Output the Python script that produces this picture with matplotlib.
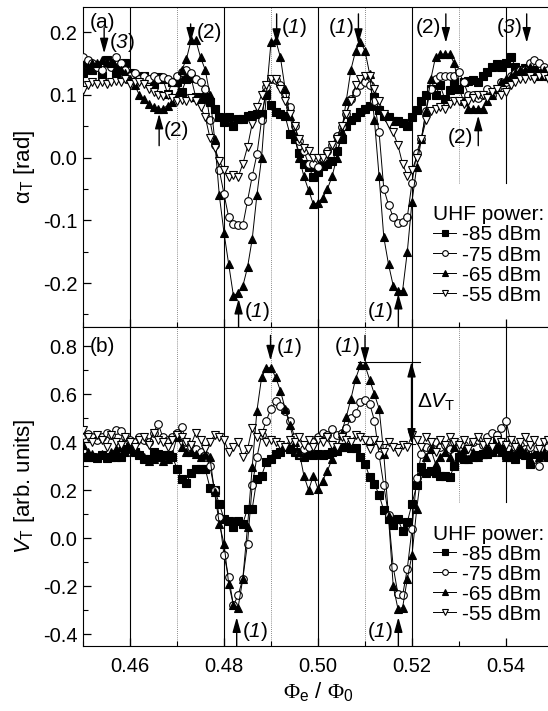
import matplotlib
matplotlib.use('Agg')
import matplotlib.pyplot as plt
import numpy as np
from matplotlib.ticker import MultipleLocator, FormatStrFormatter

plt.rcParams['font.family'] = ['Liberation Sans', 'DejaVu Sans']
plt.rcParams['mathtext.fontset'] = 'custom'
plt.rcParams['mathtext.rm'] = 'Liberation Sans'
plt.rcParams['mathtext.it'] = 'Liberation Sans:italic'
plt.rcParams['mathtext.cal'] = 'Liberation Sans:italic'
plt.rcParams['mathtext.sf'] = 'Liberation Serif'
plt.rcParams['axes.unicode_minus'] = False

# flux bias, same grid for every curve
phi = np.round(0.450 + 0.001 * np.arange(100), 3)

labels = ['-85 dBm', '-75 dBm', '-65 dBm', '-55 dBm']

# panel (a): alpha_T [rad]
alpha_85 = [0.135, 0.15, 0.14, 0.145, 0.13, 0.155, 0.15, 0.135, 0.14, 0.15,
            0.135, 0.13, 0.125, 0.13, 0.125, 0.117, 0.129, 0.125, 0.102, 0.12,
            0.12, 0.105, 0.125, 0.127, 0.096, 0.094, 0.096, 0.089, 0.078, 0.065,
            0.056, 0.064, 0.051, 0.062, 0.062, 0.067, 0.068, 0.07, 0.07, 0.102,
            0.084, 0.072, 0.07, 0.066, 0.038, 0.030, 0.008, -0.01, -0.015, -0.031,
            -0.023, -0.013, -0.01, -0.005, 0.01, 0.03, 0.05, 0.06, 0.064, 0.072,
            0.078, 0.083, 0.096, 0.076, 0.066, 0.064, 0.058, 0.058, 0.055, 0.051,
            0.064, 0.076, 0.09, 0.1, 0.11, 0.1, 0.115, 0.093, 0.107, 0.12,
            0.11, 0.12, 0.122, 0.124, 0.12, 0.13, 0.136, 0.145, 0.149, 0.145,
            0.15, 0.161, 0.145, 0.14, 0.142, 0.136, 0.14, 0.13, 0.135, 0.13]
alpha_75 = [0.16, 0.155, 0.15, 0.145, 0.14, 0.15, 0.145, 0.16, 0.15, 0.14,
            0.13, 0.135, 0.125, 0.13, 0.125, 0.13, 0.125, 0.128, 0.125, 0.12,
            0.13, 0.136, 0.14, 0.135, 0.126, 0.12, 0.11, 0.06, 0.02, -0.02,
            -0.058, -0.095, -0.106, -0.108, -0.108, -0.069, -0.03, 0.005, 0.06, 0.112,
            0.125, 0.123, 0.115, 0.101, 0.08, 0.05, 0.027, 0.01, -0.01, -0.01,
            -0.015, 0.0, 0.01, 0.02, 0.035, 0.048, 0.07, 0.093, 0.105, 0.115,
            0.12, 0.115, 0.09, 0.04, -0.05, -0.075, -0.095, -0.104, -0.103, -0.095,
            -0.04, 0.008, 0.03, 0.075, 0.11, 0.125, 0.13, 0.13, 0.13, 0.13,
            0.136, 0.12, 0.1, 0.1, 0.095, 0.1, 0.11, 0.1, 0.11, 0.12,
            0.12, 0.13, 0.135, 0.14, 0.14, 0.15, 0.155, 0.15, 0.145, 0.14]
alpha_65 = [0.14, 0.145, 0.15, 0.15, 0.155, 0.153, 0.15, 0.145, 0.14, 0.135,
            0.125, 0.115, 0.1, 0.093, 0.086, 0.08, 0.077, 0.078, 0.083, 0.088,
            0.1, 0.139, 0.157, 0.187, 0.187, 0.16, 0.14, 0.1, 0.03, -0.06,
            -0.12, -0.17, -0.22, -0.216, -0.205, -0.175, -0.13, -0.06, 0.0, 0.1,
            0.184, 0.187, 0.16, 0.11, 0.067, 0.035, 0.0, -0.03, -0.052, -0.074,
            -0.072, -0.064, -0.05, -0.03, 0.0, 0.04, 0.09, 0.14, 0.17, 0.185,
            0.17, 0.133, 0.06, -0.03, -0.127, -0.17, -0.204, -0.212, -0.212, -0.15,
            -0.07, -0.015, 0.03, 0.075, 0.125, 0.16, 0.165, 0.165, 0.165, 0.15,
            0.11, 0.09, 0.078, 0.078, 0.078, 0.078, 0.09, 0.1, 0.11, 0.12,
            0.125, 0.13, 0.135, 0.14, 0.14, 0.145, 0.14, 0.135, 0.14, 0.13]
alpha_55 = [0.108, 0.115, 0.12, 0.118, 0.12, 0.118, 0.12, 0.122, 0.12, 0.125,
            0.118, 0.12, 0.12, 0.118, 0.11, 0.105, 0.1, 0.098, 0.1, 0.095,
            0.09, 0.092, 0.09, 0.095, 0.09, 0.08, 0.065, 0.032, 0.016, -0.005,
            -0.02, -0.031, -0.028, -0.031, -0.01, 0.017, 0.054, 0.08, 0.1, 0.115,
            0.125, 0.125, 0.11, 0.09, 0.07, 0.05, 0.03, 0.016, 0.01, 0.0,
            0.0, 0.0, 0.005, 0.02, 0.03, 0.05, 0.07, 0.09, 0.115, 0.125,
            0.13, 0.13, 0.11, 0.09, 0.07, 0.054, 0.04, 0.02, -0.01, -0.029,
            -0.02, 0.0, 0.03, 0.06, 0.075, 0.078, 0.08, 0.078, 0.085, 0.09,
            0.09, 0.085, 0.09, 0.095, 0.1, 0.1, 0.095, 0.105, 0.11, 0.1,
            0.105, 0.115, 0.12, 0.125, 0.125, 0.13, 0.125, 0.13, 0.13, 0.125]

# panel (b): V_T [arb. units]
vt_85 = [0.337, 0.337, 0.34, 0.335, 0.345, 0.335, 0.34, 0.337, 0.34, 0.37,
         0.38, 0.36, 0.345, 0.33, 0.33, 0.36, 0.35, 0.345, 0.345, 0.34,
         0.29, 0.245, 0.23, 0.27, 0.29, 0.29, 0.29, 0.21, 0.2, 0.143,
         0.08, 0.073, 0.046, 0.073, 0.06, 0.122, 0.122, 0.247, 0.26, 0.317,
         0.33, 0.35, 0.36, 0.38, 0.37, 0.36, 0.345, 0.34, 0.35, 0.345,
         0.35, 0.345, 0.35, 0.358, 0.365, 0.38, 0.38, 0.375, 0.375, 0.338,
         0.31, 0.254, 0.226, 0.18, 0.115, 0.08, 0.053, 0.08, 0.03, 0.067,
         0.143, 0.22, 0.296, 0.27, 0.28, 0.27, 0.26, 0.26, 0.254, 0.3,
         0.337, 0.33, 0.35, 0.34, 0.345, 0.35, 0.35, 0.36, 0.414, 0.37,
         0.345, 0.34, 0.33, 0.35, 0.345, 0.31, 0.34, 0.345, 0.35, 0.34]
vt_75 = [0.43, 0.435, 0.42, 0.41, 0.42, 0.44, 0.43, 0.449, 0.445, 0.42,
         0.41, 0.40, 0.42, 0.41, 0.40, 0.44, 0.476, 0.42, 0.41, 0.42,
         0.44, 0.462, 0.40, 0.38, 0.37, 0.358, 0.345, 0.30, 0.20, 0.088,
         -0.072, -0.163, -0.28, -0.239, -0.17, -0.023, 0.22, 0.337, 0.43, 0.49,
         0.54, 0.57, 0.55, 0.53, 0.49, 0.42, 0.35, 0.37, 0.38, 0.40,
         0.42, 0.44, 0.43, 0.456, 0.43, 0.44, 0.46, 0.50, 0.52, 0.567,
         0.574, 0.56, 0.49, 0.345, 0.22, 0.095, -0.12, -0.232, -0.239, -0.128,
         0.039, 0.25, 0.35, 0.38, 0.37, 0.40, 0.38, 0.39, 0.37, 0.40,
         0.38, 0.39, 0.36, 0.40, 0.41, 0.39, 0.42, 0.44, 0.43, 0.46,
         0.49, 0.40, 0.38, 0.39, 0.37, 0.38, 0.33, 0.30, 0.37, 0.38]
vt_65 = [0.39, 0.36, 0.35, 0.34, 0.35, 0.34, 0.36, 0.37, 0.38, 0.36,
         0.38, 0.37, 0.35, 0.34, 0.32, 0.33, 0.34, 0.32, 0.33, 0.35,
         0.42, 0.38, 0.36, 0.358, 0.35, 0.34, 0.35, 0.337, 0.19, 0.06,
         -0.023, -0.19, -0.28, -0.29, -0.17, 0.046, 0.296, 0.53, 0.67, 0.71,
         0.71, 0.67, 0.615, 0.54, 0.47, 0.40, 0.36, 0.26, 0.20, 0.26,
         0.205, 0.24, 0.28, 0.33, 0.37, 0.44, 0.504, 0.58, 0.664, 0.72,
         0.72, 0.66, 0.60, 0.54, 0.35, 0.09, -0.20, -0.294, -0.29, -0.17,
         -0.07, 0.12, 0.28, 0.34, 0.37, 0.31, 0.34, 0.36, 0.34, 0.38,
         0.35, 0.37, 0.33, 0.36, 0.34, 0.35, 0.38, 0.37, 0.39, 0.36,
         0.34, 0.36, 0.35, 0.38, 0.36, 0.33, 0.35, 0.34, 0.36, 0.35]
vt_55 = [0.45, 0.42, 0.40, 0.43, 0.41, 0.38, 0.43, 0.40, 0.39, 0.42,
         0.40, 0.38, 0.41, 0.42, 0.39, 0.44, 0.41, 0.40, 0.38, 0.41,
         0.43, 0.42, 0.40, 0.39, 0.44, 0.41, 0.37, 0.40, 0.43, 0.42,
         0.41, 0.36, 0.38, 0.40, 0.34, 0.37, 0.46, 0.42, 0.44, 0.40,
         0.41, 0.40, 0.39, 0.38, 0.41, 0.40, 0.42, 0.39, 0.41, 0.38,
         0.41, 0.40, 0.42, 0.39, 0.38, 0.42, 0.41, 0.40, 0.43, 0.42,
         0.41, 0.37, 0.41, 0.39, 0.36, 0.40, 0.38, 0.36, 0.39, 0.38,
         0.43, 0.41, 0.38, 0.42, 0.40, 0.36, 0.41, 0.39, 0.42, 0.40,
         0.39, 0.41, 0.37, 0.40, 0.42, 0.39, 0.40, 0.38, 0.41, 0.40,
         0.39, 0.41, 0.38, 0.40, 0.42, 0.39, 0.41, 0.37, 0.40, 0.41]

MARKERS = [('s', 'k'), ('o', 'white'), ('^', 'k'), ('v', 'white')]
FS = 15


def arrow(ax, x, tail, tip, text, tx, ty, ha):
    ax.annotate('', xy=(x, tip), xytext=(x, tail),
                arrowprops=dict(arrowstyle='-|>,head_length=0.9,head_width=0.25',
                                color='k', lw=1.0, shrinkA=0, shrinkB=0,
                                mutation_scale=10))
    ax.text(tx, ty, text, ha=ha, va='center', fontsize=FS)


def draw_panel(ax, curves, ylim, major, minor):
    for x in [0.46, 0.48, 0.50, 0.52, 0.54]:
        ax.axvline(x, ymin=0.45 if x > 0.525 else 0, color='k', lw=0.8, zorder=1)
    for x in [0.47, 0.49, 0.51, 0.53]:
        ax.axvline(x, ymin=0.45 if x > 0.525 else 0, color='0.4', lw=0.6,
                   ls=(0, (1, 1.5)), zorder=1)
    for y, label, (m, face) in zip(curves, labels, MARKERS):
        ax.plot(phi, y, color='k', lw=0.7, marker=m, ms=5.5, mfc=face, mec='k',
                mew=0.8, label=label, zorder=3)
    ax.set_xlim(0.45, 0.55)
    ax.set_ylim(*ylim)
    ax.xaxis.set_major_locator(MultipleLocator(0.02))
    ax.xaxis.set_minor_locator(MultipleLocator(0.01))
    ax.yaxis.set_major_locator(MultipleLocator(major))
    ax.yaxis.set_minor_locator(MultipleLocator(minor))
    ax.yaxis.set_major_formatter(FormatStrFormatter('%.1f'))
    ax.xaxis.set_major_formatter(FormatStrFormatter('%.2f'))
    ax.tick_params(which='both', direction='in', labelsize=14.5, top=False, right=False)
    ax.tick_params(which='major', length=6, width=0.9)
    ax.tick_params(which='minor', length=3.5, width=0.8)
    ax.tick_params(axis='x', pad=8)
    ax.tick_params(axis='y', pad=4)
    ax.legend(title='UHF power:', loc='lower left', bbox_to_anchor=(0.745, 0.07),
              frameon=False, fontsize=FS, title_fontsize=FS, handlelength=1.1,
              handletextpad=0.3, labelspacing=0.05, borderpad=0, borderaxespad=0,
              alignment='left', markerscale=0.75)


fig = plt.figure(figsize=(5.48, 7.11), dpi=100)
ax1 = fig.add_axes([83 / 548, 1 - 327 / 711, 470 / 548, 320 / 711])
ax2 = fig.add_axes([83 / 548, 1 - 646 / 711, 470 / 548, 319 / 711])

draw_panel(ax1, [alpha_85, alpha_75, alpha_65, alpha_55], (-0.27, 0.24), 0.1, 0.05)
draw_panel(ax2, [vt_85, vt_75, vt_65, vt_55], (-0.45, 0.88), 0.2, 0.1)
ax1.tick_params(labelbottom=False)

ax1.set_ylabel('α$_{\\rm T}$ [rad]', fontsize=16)
ax2.set_ylabel('$\\mathit{V}_{\\rm T}$ [arb. units]', fontsize=16)
ax1.yaxis.set_label_coords(-0.098, 0.5)
ax2.yaxis.set_label_coords(-0.098, 0.5)
ax2.set_xlabel('$\\mathsf{\\Phi}_{\\rm e}$ / $\\mathsf{\\Phi}_{\\rm 0}$',
               fontsize=16, labelpad=3)

one = '($\\mathcal{1}$)'
three = '($\\mathcal{3}$)'

ax1.text(0.4515, 0.215, '(a)', fontsize=FS, va='center')
arrow(ax1, 0.4545, 0.207, 0.166, three, 0.4556, 0.183, 'left')
arrow(ax1, 0.4729, 0.213, 0.183, '(2)', 0.4741, 0.2, 'left')
arrow(ax1, 0.4912, 0.229, 0.181, one, 0.4922, 0.207, 'left')
arrow(ax1, 0.5086, 0.229, 0.181, one, 0.5078, 0.207, 'right')
arrow(ax1, 0.5272, 0.229, 0.183, '(2)', 0.5262, 0.207, 'right')
arrow(ax1, 0.5444, 0.229, 0.183, three, 0.5434, 0.207, 'right')
arrow(ax1, 0.4662, 0.019, 0.07, '(2)', 0.4672, 0.043, 'left')
arrow(ax1, 0.4831, -0.27, -0.225, one, 0.4842, -0.246, 'left')
arrow(ax1, 0.5171, -0.27, -0.217, one, 0.5160, -0.246, 'right')
arrow(ax1, 0.5341, 0.019, 0.067, '(2)', 0.5331, 0.032, 'right')

ax2.text(0.4515, 0.80, '(b)', fontsize=FS, va='center')
arrow(ax2, 0.4899, 0.845, 0.74, one, 0.4910, 0.796, 'left')
arrow(ax2, 0.5100, 0.845, 0.73, one, 0.5089, 0.80, 'right')
arrow(ax2, 0.4827, -0.45, -0.33, one, 0.4838, -0.39, 'left')
arrow(ax2, 0.5171, -0.45, -0.33, one, 0.5160, -0.39, 'right')

# Delta V_T marker
ax2.plot([0.5086, 0.5217], [0.735, 0.735], color='k', lw=0.8)
ax2.plot([0.5093, 0.5206], [0.393, 0.393], color='k', lw=0.8)
ax2.annotate('', xy=(0.5199, 0.735), xytext=(0.5199, 0.393),
             arrowprops=dict(arrowstyle='<|-|>,head_length=0.9,head_width=0.25',
                             color='k', lw=1.0, shrinkA=0, shrinkB=0, mutation_scale=10))
ax2.text(0.5210, 0.565, '$\\Delta\\mathit{V}_{\\rm T}$', fontsize=FS, va='center')

fig.savefig('out.png', dpi=100)
